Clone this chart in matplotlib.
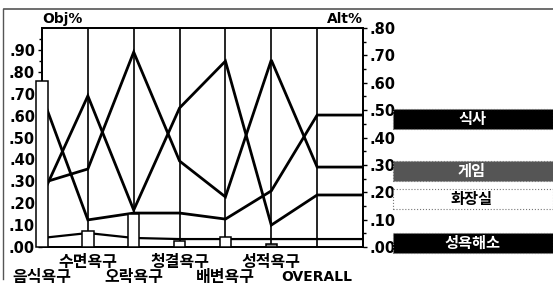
import numpy as np
import matplotlib
matplotlib.use("Agg")
import matplotlib.pyplot as plt
import matplotlib.transforms as mtransforms
from matplotlib.patches import Rectangle
from matplotlib.lines import Line2D

# ---- data ----
categories = ["음식욕구", "수면욕구", "오락욕구", "청결욕구", "배변욕구", "성적욕구", "OVERALL"]
obj_bars = [0.758, 0.073, 0.151, 0.027, 0.046, 0.012, 0.0]          # Obj% (left axis)
meal = [0.552, 0.099, 0.124, 0.124, 0.102, 0.205, 0.482]             # 식사 (Alt%)
toilet = [0.186, 0.552, 0.135, 0.508, 0.679, 0.080, 0.190]           # 화장실
game = [0.234, 0.285, 0.712, 0.314, 0.183, 0.683, 0.292]             # 게임
sex = [0.033, 0.051, 0.033, 0.029, 0.029, 0.029, 0.029]              # 성욕해소
series_names = ["식사", "게임", "화장실", "성욕해소"]
obj_ticks = [0.0, 0.1, 0.2, 0.3, 0.4, 0.5, 0.6, 0.7, 0.8, 0.9]
alt_ticks = [0.0, 0.1, 0.2, 0.3, 0.4, 0.5, 0.6, 0.7, 0.8]

W, H = 553, 285
fig = plt.figure(figsize=(W / 100, H / 100), dpi=100)
fig.patch.set_facecolor("white")

ax = fig.add_axes([42 / W, 38 / H, 321 / W, 219 / H])
ax2 = ax.twinx()
ax.set_zorder(ax2.get_zorder() + 1)
ax.patch.set_visible(False)

n = len(categories)
ax.set_xlim(0, n)
ax.set_ylim(0, 1.0)
ax2.set_ylim(0, 0.8)

# lines (Alt%) with flat extension to right axis
xs = np.arange(n + 1)
series = [meal, game, toilet, sex]
widths = [2.0, 2.0, 2.0, 1.6]
for vals, lw in zip(series, widths):
    ax2.plot(xs, list(vals) + [vals[-1]], color="black", lw=lw,
             solid_joinstyle="miter", zorder=3)

# vertical separator lines
for i in range(1, n):
    ax.axvline(i, color="black", lw=1.2, zorder=2)

# bars (Obj%)
bar_faces = ["white", "white", "white", "white", "white", "#888888", "white"]
for i, v in enumerate(obj_bars):
    if v > 0:
        ax.bar(i, v, width=0.25, facecolor=bar_faces[i], edgecolor="black",
               lw=1.1, zorder=4, clip_on=False)

for a in (ax, ax2):
    for s in a.spines.values():
        s.set_linewidth(1.3)
        s.set_color("black")

ax.set_xticks([])
ax.set_yticks(obj_ticks)
ax.set_yticklabels([f"{t:.2f}"[1:] for t in obj_ticks])
ax.set_yticks(np.arange(0.05, 1.0, 0.1), minor=True)
ax2.set_yticks(alt_ticks)
ax2.set_yticklabels([f"{t:.2f}"[1:] for t in alt_ticks])
ax2.set_yticks(np.arange(0.05, 0.8, 0.1), minor=True)
for a in (ax, ax2):
    a.tick_params(axis="y", which="major", length=3, width=1, pad=2,
                  labelsize=10.5)
    a.tick_params(axis="y", which="minor", length=2, width=1)
    for lab in a.get_yticklabels():
        lab.set_fontweight("bold")
        lab.set_family("DejaVu Sans")

fig.text(42 / W, 1 - 19 / H, "Obj%", ha="left", va="center",
         fontsize=10, fontweight="bold")
fig.text(363 / W, 1 - 19 / H, "Alt%", ha="right", va="center",
         fontsize=10, fontweight="bold")

# category labels, staggered in two rows
kfont = ["Noto Sans CJK KR", "DejaVu Sans"]
trans = mtransforms.blended_transform_factory(ax.transData, fig.transFigure)
for i, c in enumerate(categories):
    yrow = 1 - 262 / H if i % 2 == 1 else 1 - 277 / H
    fam = kfont if c != "OVERALL" else ["DejaVu Sans"]
    fs = 11.5 if c != "OVERALL" else 10
    ax.text(i, yrow, c, transform=trans, ha="center", va="center",
            fontsize=fs, fontweight="bold", family=fam, clip_on=False)

# end-of-line labels on the right
fig.canvas.draw()
box_styles = {
    "식사": ("black", "white"),
    "게임": ("#555555", "white"),
    "화장실": ("white", "black"),
    "성욕해소": ("black", "white"),
}
for name, vals in zip(series_names, series):
    yd = ax2.transData.transform((0, vals[-1]))[1]
    yc = (yd - 4) / H
    bh = 20 / H
    rect = Rectangle((393 / W, yc - bh / 2), 160 / W, bh, transform=fig.transFigure,
                     facecolor=box_styles[name][0], edgecolor="#777777",
                     lw=0.8, ls=":")
    fig.add_artist(rect)
    fig.text(472 / W, yc, name, ha="center", va="center", fontsize=11,
             fontweight="bold", color=box_styles[name][1], family=kfont)

# window border
fig.add_artist(Line2D([4 / W, 1], [1 - 9 / H, 1 - 9 / H], color="#555555", lw=1.2,
                      transform=fig.transFigure))
fig.add_artist(Line2D([3 / W, 3 / W], [0.02, 1 - 9 / H], color="#555555", lw=1.0,
                      transform=fig.transFigure))

fig.savefig("out.png", dpi=100)
